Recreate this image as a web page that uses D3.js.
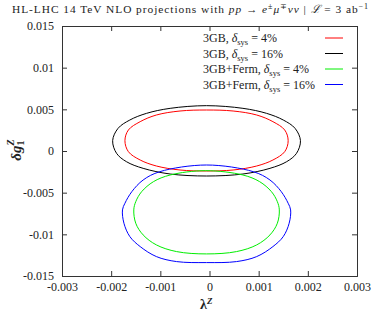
<!DOCTYPE html>
<html>
<head>
<meta charset="utf-8">
<script src="https://cdn.jsdelivr.net/npm/d3@7"></script>
<style>
  body { margin: 0; background: #fff; }
  text { font-family: "Liberation Serif", "DejaVu Serif", serif; fill: #222; }
</style>
</head>
<body>
<div id="chart"></div>
<script>
var xTicks = [-0.003, -0.002, -0.001, 0, 0.001, 0.002, 0.003];
var yTicks = [-0.015, -0.01, -0.005, 0, 0.005, 0.01, 0.015];

// contours, [lambda, dg1]
var gb4 = [[-0.00006,0.00492],[-0.00060,0.00480],[-0.00108,0.00432],[-0.00141,0.00352],[-0.00165,0.00252],[-0.00172,0.00124],
  [-0.00165,-0.00008],[-0.00141,-0.00108],[-0.00108,-0.00180],[-0.00060,-0.00228],[-0.00006,-0.00240],
  [0.00048,-0.00228],[0.00096,-0.00180],[0.00129,-0.00108],[0.00153,-0.00008],[0.00160,0.00124],
  [0.00153,0.00252],[0.00129,0.00352],[0.00096,0.00432],[0.00048,0.00480]];
var gb16 = [[-0.00006,0.00544],[-0.00080,0.00512],[-0.00128,0.00452],[-0.00162,0.00372],[-0.00186,0.00272],[-0.00197,0.00124],
  [-0.00189,-0.00028],[-0.00169,-0.00128],[-0.00135,-0.00208],[-0.00080,-0.00276],[-0.00006,-0.00300],
  [0.00068,-0.00276],[0.00123,-0.00208],[0.00157,-0.00128],[0.00177,-0.00028],[0.00185,0.00124],
  [0.00174,0.00272],[0.00150,0.00372],[0.00116,0.00452],[0.00068,0.00512]];
var ferm4 = [[-0.00008,-0.00236],[-0.00080,-0.00288],[-0.00114,-0.00368],[-0.00138,-0.00488],[-0.00150,-0.00608],[-0.00154,-0.00707],
  [-0.00150,-0.00867],[-0.00135,-0.01007],[-0.00108,-0.01127],[-0.00067,-0.01207],[-0.00006,-0.01235],
  [0.00055,-0.01207],[0.00096,-0.01127],[0.00123,-0.01007],[0.00138,-0.00867],[0.00142,-0.00707],
  [0.00138,-0.00608],[0.00126,-0.00488],[0.00102,-0.00368],[0.00068,-0.00288]];
var ferm16 = [[-0.00006,-0.00168],[-0.00101,-0.00248],[-0.00135,-0.00348],[-0.00158,-0.00488],[-0.00172,-0.00627],[-0.00177,-0.00707],
  [-0.00174,-0.00867],[-0.00162,-0.01027],[-0.00141,-0.01147],[-0.00108,-0.01267],[-0.00067,-0.01327],[-0.00006,-0.01339],
  [0.00055,-0.01327],[0.00096,-0.01267],[0.00129,-0.01147],[0.00150,-0.01027],[0.00162,-0.00867],[0.00165,-0.00707],
  [0.00160,-0.00627],[0.00146,-0.00488],[0.00123,-0.00348],[0.00089,-0.00248]];

var seriesNames = ["3GB, ", "3GB, ", "3GB+Ferm, ", "3GB+Ferm, "];
var sysValues = ["4%", "16%", "4%", "16%"];
var seriesColors = ["#ff0000", "#000000", "#00ee00", "#0000ff"];
var seriesData = [gb4, gb16, ferm4, ferm16];

var width = 374, height = 313;
var margin = {left: 62, right: 17, top: 26, bottom: 37};

var svg = d3.select("#chart").append("svg")
    .attr("width", width)
    .attr("height", height);

var x = d3.scaleLinear().domain([-0.003, 0.003]).range([margin.left, width - margin.right]);
var y = d3.scaleLinear().domain([-0.015, 0.015]).range([height - margin.bottom, margin.top]);

var fmt = function(d) { return d === 0 ? "0" : String(d); };

// axes, ticks inward on all four sides
svg.append("g").attr("transform", "translate(0," + y.range()[0] + ")")
    .call(d3.axisBottom(x).tickValues(xTicks).tickSize(-5).tickPadding(6).tickFormat(fmt));
svg.append("g").attr("transform", "translate(0," + y.range()[1] + ")")
    .call(d3.axisTop(x).tickValues(xTicks).tickSize(-5).tickFormat(""));
svg.append("g").attr("transform", "translate(" + x.range()[0] + ",0)")
    .call(d3.axisLeft(y).tickValues(yTicks).tickSize(-5).tickPadding(8).tickFormat(fmt));
svg.append("g").attr("transform", "translate(" + x.range()[1] + ",0)")
    .call(d3.axisRight(y).tickValues(yTicks).tickSize(-5).tickFormat(""));

svg.selectAll(".domain").attr("stroke", "#333");
svg.selectAll(".tick line").attr("stroke", "#333");
svg.selectAll(".tick text")
    .style("font-family", "'Liberation Serif', serif")
    .style("font-size", "12px")
    .attr("fill", "#333");

// contours
var line = d3.line()
    .x(function(d) { return x(d[0]); })
    .y(function(d) { return y(d[1]); })
    .curve(d3.curveCatmullRomClosed);

svg.selectAll("path.contour")
    .data(seriesData)
  .enter().append("path")
    .attr("class", "contour")
    .attr("d", line)
    .attr("fill", "none")
    .attr("stroke", function(d, i) { return seriesColors[i]; })
    .attr("stroke-width", 1);

// legend
var legend = svg.append("g");
var rows = legend.selectAll("g").data(seriesNames).enter().append("g")
    .attr("transform", function(d, i) { return "translate(0," + (42 + i * 15.5) + ")"; });

var lt = rows.append("text").attr("x", 203).style("font-size", "12px");
lt.append("tspan").text(function(d) { return d; });
lt.append("tspan").style("font-style", "italic").text("δ");
lt.append("tspan").attr("dy", 3).style("font-size", "8.5px").text("sys");
lt.append("tspan").attr("dy", -3).text(function(d, i) { return " = " + sysValues[i]; });

rows.append("line")
    .attr("x1", 325).attr("x2", 343)
    .attr("y1", -4).attr("y2", -4)
    .attr("stroke", function(d, i) { return seriesColors[i]; })
    .attr("stroke-width", 1);

// title
var title = svg.append("text")
    .attr("x", 190).attr("y", 13)
    .attr("text-anchor", "middle")
    .attr("textLength", 356)
    .attr("lengthAdjust", "spacing")
    .style("font-size", "11.4px");
title.append("tspan").text("HL-LHC 14 TeV NLO projections with ");
title.append("tspan").style("font-style", "italic").text("pp");
title.append("tspan").text(" → ");
title.append("tspan").style("font-style", "italic").text("e");
title.append("tspan").attr("dy", -4).style("font-size", "8px").text("±");
title.append("tspan").attr("dy", 4).style("font-style", "italic").text("μ");
title.append("tspan").attr("dy", -4).style("font-size", "8px").text("∓");
title.append("tspan").attr("dy", 4).style("font-style", "italic").text("νν");
title.append("tspan").text(" | ");
title.append("tspan").style("font-style", "italic").text("ℒ");
title.append("tspan").text(" = 3 ab");
title.append("tspan").attr("dy", -4).style("font-size", "8px").text("−1");

// axis titles
var xl = svg.append("text")
    .attr("x", 200).attr("y", 309)
    .style("font-size", "14px").style("font-weight", "bold");
xl.append("tspan").text("λ");
xl.append("tspan").attr("dy", -5).style("font-size", "9px").style("font-style", "italic").text("Z");

var yl = svg.append("text")
    .attr("transform", "translate(21,150) rotate(-90)")
    .attr("text-anchor", "middle")
    .style("font-size", "15px").style("font-weight", "bold");
yl.append("tspan").style("font-style", "italic").text("δg");
yl.append("tspan").attr("dy", 3).style("font-size", "10px").text("1");
yl.append("tspan").attr("dy", -10).attr("dx", -5).style("font-size", "10px").style("font-style", "italic").text("Z");
</script>
</body>
</html>
